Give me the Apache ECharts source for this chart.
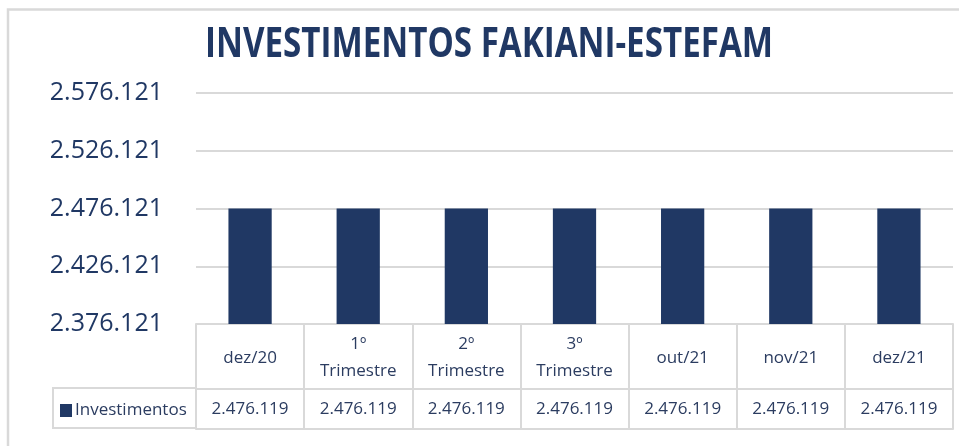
<!DOCTYPE html>
<html>
<head>
<meta charset="utf-8">
<script src="https://cdn.jsdelivr.net/npm/echarts@6/dist/echarts.min.js"></script>
<style>
html,body{margin:0;padding:0;background:#fff;}
#chart{width:959px;height:446px;}
</style>
</head>
<body>
<div id="chart"></div>
<script>
var titleText = 'INVESTIMENTOS FAKIANI-ESTEFAM';
var categories = ['dez/20', '1º\nTrimestre', '2º\nTrimestre', '3º\nTrimestre', 'out/21', 'nov/21', 'dez/21'];
var seriesName = 'Investimentos';
var values = [2476119, 2476119, 2476119, 2476119, 2476119, 2476119, 2476119];
var axisBase = 2376121;
var axisSpan = 200000;
var axisStep = 50000;

function fmt(n) {
  return String(Math.round(n)).replace(/\B(?=(\d{3})+(?!\d))/g, '.');
}

var NAVY = '#203864';
var TXT = '#2B3C60';
var GRAY = '#d9d9d9';
var FONT = '"Open Sans", "Noto Sans", sans-serif';

// measure title to condense it horizontally
var cv = document.createElement('canvas').getContext('2d');
cv.font = 'bold 42px "Open Sans"';
var tw = cv.measureText(titleText).width;
var titleScale = 568 / tw;

var chart = echarts.init(document.getElementById('chart'));
chart.setOption({
  animation: false,
  backgroundColor: '#fff',
  textStyle: { fontFamily: FONT },
  graphic: [
    { type: 'rect', shape: { x: 8, y: 9.5, width: 1200, height: 1200 }, style: { fill: 'none', stroke: GRAY, lineWidth: 2.5 }, z: 0 },
    { type: 'rect', shape: { x: 53, y: 388, width: 143, height: 40 }, style: { fill: 'none', stroke: GRAY, lineWidth: 2 }, z: 1 },
    { type: 'text', x: 489, y: 45, scaleX: titleScale, scaleY: 1,
      style: { text: titleText, font: 'bold 42px "Open Sans"', fill: NAVY, align: 'center', verticalAlign: 'middle' }, z: 5 }
  ],
  legend: {
    show: true, left: 60, top: 402, padding: 0, itemWidth: 12, itemHeight: 13, itemGap: 4,
    icon: 'rect',
    textStyle: { color: TXT, fontSize: 17, fontFamily: FONT, padding: [0, 0, 0, -2] },
    data: [seriesName]
  },
  grid: { left: 196, right: 6, top: 93, bottom: 122, containLabel: false },
  xAxis: [
    {
      type: 'category', data: categories, position: 'bottom',
      axisLine: { show: true, lineStyle: { color: GRAY, width: 2 } },
      axisTick: { show: true, length: 105, lineStyle: { color: GRAY, width: 2 } },
      axisLabel: { color: TXT, fontSize: 17, lineHeight: 27, margin: 34, verticalAlign: 'middle', fontFamily: FONT, interval: 0 }
    },
    {
      type: 'category', data: categories, position: 'bottom', offset: 65,
      axisLine: { show: true, lineStyle: { color: GRAY, width: 2 } },
      axisTick: { show: false },
      axisLabel: { color: TXT, fontSize: 17, margin: 20, verticalAlign: 'middle', fontFamily: FONT, interval: 0,
        formatter: function (v, i) { return fmt(values[i]); } }
    },
    {
      type: 'category', data: categories, position: 'bottom', offset: 105,
      axisLine: { show: true, lineStyle: { color: GRAY, width: 2 } },
      axisTick: { show: false },
      axisLabel: { show: false }
    }
  ],
  yAxis: {
    type: 'value', min: 0, max: axisSpan, interval: axisStep,
    axisLine: { show: false }, axisTick: { show: false },
    splitLine: { show: true, lineStyle: { color: GRAY, width: 2 } },
    axisLabel: { color: NAVY, fontSize: 25, margin: 33, fontFamily: FONT,
      formatter: function (v) { return fmt(v + axisBase); } }
  },
  series: [{
    name: seriesName, type: 'bar', xAxisIndex: 0, barWidth: '40%',
    itemStyle: { color: NAVY },
    data: values.map(function (v) { return v - axisBase; }),
    z: 3
  }]
});
</script>
</body>
</html>
